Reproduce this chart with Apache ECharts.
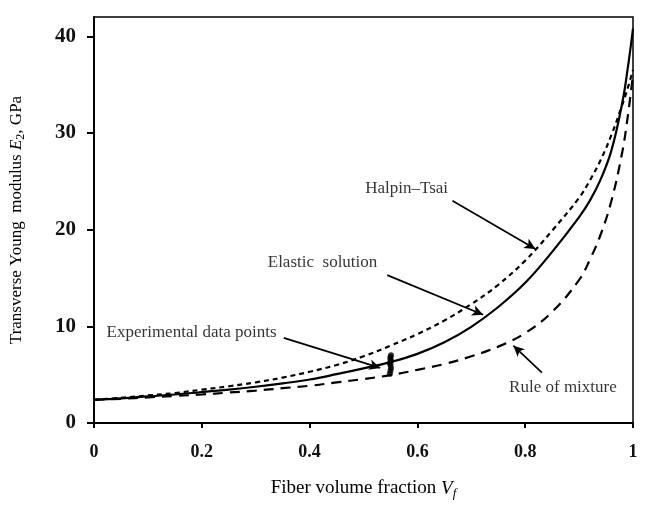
<!DOCTYPE html>
<html>
<head>
<meta charset="utf-8">
<script src="https://cdn.jsdelivr.net/npm/echarts@6/dist/echarts.min.js"></script>
<style>html,body{margin:0;padding:0;background:#fff}#c{width:651px;height:511px}</style>
</head>
<body>
<div id="c"></div>
<script>
// Fiber volume fraction
const vf = [0, 0.05, 0.1, 0.15, 0.2, 0.25, 0.3, 0.35, 0.4, 0.45, 0.5, 0.55, 0.6, 0.65, 0.7, 0.75, 0.8, 0.85, 0.9, 0.92, 0.94, 0.96, 0.98, 0.99, 1.0];
// Halpin–Tsai (short dash)
const halpinTsai = [2.4, 2.6, 2.85, 3.1, 3.45, 3.8, 4.2, 4.7, 5.3, 6.0, 6.9, 8.0, 9.2, 10.6, 12.3, 14.3, 16.8, 19.9, 23.3, 25.1, 27.2, 29.8, 32.9, 34.6, 36.5];
// Elastic solution (solid)
const elastic = [2.4, 2.55, 2.75, 2.95, 3.2, 3.45, 3.75, 4.1, 4.5, 5.05, 5.65, 6.3, 7.15, 8.35, 9.95, 12.0, 14.5, 17.7, 21.3, 23.0, 25.2, 28.2, 33.1, 36.6, 40.8];
// Rule of mixture (long dash)
const ruleOfMixture = [2.4, 2.5, 2.65, 2.8, 2.95, 3.15, 3.35, 3.6, 3.85, 4.2, 4.55, 4.95, 5.5, 6.1, 6.9, 7.9, 9.3, 11.5, 14.8, 16.9, 19.5, 23.0, 28.0, 31.6, 36.0];
// Experimental data points
const expX = [0.549, 0.55, 0.551, 0.55, 0.549, 0.551, 0.55, 0.55, 0.551];
const expY = [5.1, 5.4, 5.7, 6.0, 6.2, 6.4, 6.6, 6.8, 7.0];
// Tick labels
const xTicks = [0, 0.2, 0.4, 0.6, 0.8, 1];
const yTicks = [0, 10, 20, 30, 40];
// Annotation texts
const labels = ['Halpin\u2013Tsai', 'Elastic  solution', 'Experimental data points', 'Rule of mixture'];

const pair = (ys) => vf.map((x, i) => [x, ys[i]]);
const serif = '"Liberation Serif", "DejaVu Serif", serif';

const labelAnchors = [[0.580, 24.3], [0.424, 16.6], [0.181, 9.4], [0.870, 3.7]];
const arrows = [
  [[0.665, 23.0], [0.819, 18.0]],
  [[0.544, 15.3], [0.722, 11.2]],
  [[0.352, 8.8], [0.531, 5.7]],
  [[0.831, 5.2], [0.778, 8.0]]
];

const chart = echarts.init(document.getElementById('c'), null, {renderer: 'canvas'});
chart.setOption({
  animation: false,
  backgroundColor: '#fff',
  grid: {left: 93, right: 18, top: 17, bottom: 88, show: true, borderColor: '#000', borderWidth: 1.5, containLabel: false},
  xAxis: {
    type: 'value', min: 0, max: 1, interval: 0.2,
    name: '{n|Fiber volume fraction }{i|V}{s|f}',
    nameLocation: 'middle', nameGap: 54,
    nameTextStyle: {rich: {
      n: {fontFamily: serif, fontSize: 19, color: '#000'},
      i: {fontFamily: serif, fontSize: 19, fontStyle: 'italic', color: '#000'},
      s: {fontFamily: serif, fontSize: 13, fontStyle: 'italic', color: '#000', verticalAlign: 'bottom', padding: [10, 0, 0, 0]}
    }},
    axisLine: {lineStyle: {color: '#000', width: 2}},
    axisTick: {show: true, inside: false, length: 5, lineStyle: {color: '#000', width: 2}, customValues: xTicks},
    axisLabel: {fontFamily: serif, fontSize: 18, fontWeight: 'bold', color: '#111', margin: 20, customValues: xTicks},
    splitLine: {show: false}
  },
  yAxis: {
    type: 'value', min: 0, max: 42,
    name: '{n|Transverse Young  modulus }{i|E}{s|2}{n|, GPa}',
    nameLocation: 'middle', nameGap: 67, nameRotate: 90,
    nameTextStyle: {rich: {
      n: {fontFamily: serif, fontSize: 17, color: '#000'},
      i: {fontFamily: serif, fontSize: 17, fontStyle: 'italic', color: '#000'},
      s: {fontFamily: serif, fontSize: 12, color: '#000', verticalAlign: 'bottom', padding: [9, 0, 0, 0]}
    }},
    axisLine: {show: true, lineStyle: {color: '#000', width: 2}},
    axisTick: {show: true, inside: false, length: 7, lineStyle: {color: '#000', width: 2}, customValues: yTicks},
    axisLabel: {fontFamily: serif, fontSize: 21, fontWeight: 'bold', color: '#111', margin: 18, customValues: yTicks},
    splitLine: {show: false}
  },
  series: [
    {name: 'Halpin-Tsai', type: 'line', data: pair(halpinTsai), showSymbol: false, smooth: 0.4,
     lineStyle: {color: '#000', width: 2.2, type: [5, 4]}},
    {name: 'Elastic solution', type: 'line', data: pair(elastic), showSymbol: false, smooth: 0.4,
     lineStyle: {color: '#000', width: 2.2, type: 'solid'}},
    {name: 'Rule of mixture', type: 'line', data: pair(ruleOfMixture), showSymbol: false, smooth: 0.4,
     lineStyle: {color: '#000', width: 2.2, type: [10, 7]}},
    {name: 'Experimental', type: 'scatter', data: expX.map((x, i) => [x, expY[i]]),
     symbol: 'circle', symbolSize: 6, itemStyle: {color: '#000'}},
    {name: 'annotations', type: 'scatter', symbolSize: 0, silent: true,
     data: labels.map((t, i) => ({name: t, value: labelAnchors[i]})),
     label: {show: true, position: 'inside', formatter: (p) => p.name, fontFamily: serif, fontSize: 17, color: '#000'},
     markLine: {silent: true, symbol: ['none', 'arrow'], symbolSize: [8, 11], label: {show: false},
       lineStyle: {color: '#000', width: 1.7, type: 'solid'},
       data: arrows.map(a => [{coord: a[0]}, {coord: a[1]}])}}
  ]
});
</script>
</body>
</html>
